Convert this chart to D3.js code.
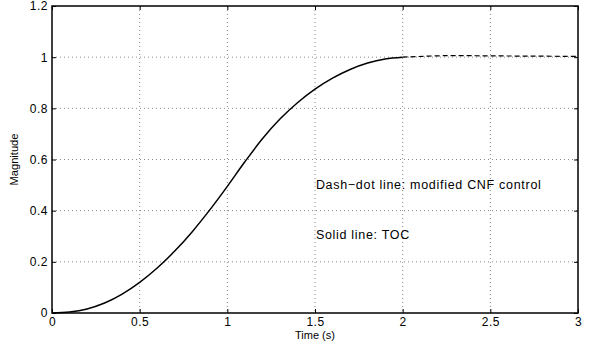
<!DOCTYPE html>
<html>
<head>
<meta charset="utf-8">
<script src="https://cdn.jsdelivr.net/npm/d3@7"></script>
<style>
  body { margin: 0; background: #fff; }
  text { font-family: "Liberation Sans", Arial, sans-serif; }
</style>
</head>
<body>
<div id="chart"></div>
<script>
// values
const tocTime = [0, 0.1, 0.2, 0.3, 0.4, 0.5, 0.6, 0.7, 0.8, 0.9, 1.0,
                 1.1, 1.2, 1.3, 1.4, 1.5, 1.6, 1.7, 1.8, 1.9, 2.0];
const tocMag = [0, 0.004, 0.016, 0.039, 0.074, 0.12, 0.176, 0.242, 0.318, 0.403, 0.495,
                0.591, 0.681, 0.758, 0.822, 0.875, 0.918, 0.952, 0.977, 0.993, 1.0];
const cnfTime = [2.0, 2.25, 2.5, 2.75, 3.0];
const cnfMag = [1.0, 1.006, 1.005, 1.004, 1.003];
const xTicks = [0, 0.5, 1, 1.5, 2, 2.5, 3];
const yTicks = [0, 0.2, 0.4, 0.6, 0.8, 1, 1.2];
const notes = ["Dash\u2212dot line: modified CNF control", "Solid line: TOC"];

const W = 589, H = 345;
const margin = { top: 6, right: 11, bottom: 32, left: 52 };
const width = W - margin.left - margin.right;
const height = H - margin.top - margin.bottom;

const svg = d3.select("#chart")
    .append("svg")
    .attr("width", W)
    .attr("height", H);

const g = svg.append("g")
    .attr("transform", `translate(${margin.left},${margin.top})`);

const x = d3.scaleLinear().domain([0, 3]).range([0, width]);
const y = d3.scaleLinear().domain([0, 1.2]).range([height, 0]);

// dotted grid
g.append("g")
    .selectAll("line")
    .data(xTicks.slice(1, -1))
    .join("line")
    .attr("x1", d => x(d)).attr("x2", d => x(d))
    .attr("y1", 0).attr("y2", height)
    .attr("stroke", "#888").attr("stroke-width", 1)
    .attr("stroke-dasharray", "1,3");

g.append("g")
    .selectAll("line")
    .data(yTicks.slice(1, -1))
    .join("line")
    .attr("x1", 0).attr("x2", width)
    .attr("y1", d => y(d)).attr("y2", d => y(d))
    .attr("stroke", "#888").attr("stroke-width", 1)
    .attr("stroke-dasharray", "1,3");

// axes with inward ticks
const fmt = d3.format("~g");
const styleAxis = sel => {
    sel.select(".domain").remove();
    sel.selectAll("text")
        .style("font-size", "12px")
        .style("letter-spacing", "0.5px")
        .attr("fill", "#000");
    sel.selectAll("line").attr("stroke", "#000");
};

g.append("g")
    .attr("transform", `translate(0,${height})`)
    .call(d3.axisBottom(x).tickValues(xTicks).tickFormat(fmt).tickSizeInner(-4).tickPadding(4))
    .call(styleAxis);

g.append("g")
    .call(d3.axisLeft(y).tickValues(yTicks).tickFormat(fmt).tickSizeInner(-4).tickPadding(4))
    .call(styleAxis);

g.append("g")
    .call(d3.axisTop(x).tickValues(xTicks).tickFormat("").tickSizeInner(-4))
    .call(styleAxis);

g.append("g")
    .attr("transform", `translate(${width},0)`)
    .call(d3.axisRight(y).tickValues(yTicks).tickFormat("").tickSizeInner(-4))
    .call(styleAxis);

// box
g.append("rect")
    .attr("width", width).attr("height", height)
    .attr("fill", "none").attr("stroke", "#000").attr("stroke-width", 1.5);

// lines
const line = d3.line()
    .x(d => x(d[0]))
    .y(d => y(d[1]))
    .curve(d3.curveCatmullRom);

g.append("path")
    .datum(cnfTime.map((t, i) => [t, cnfMag[i]]))
    .attr("d", line)
    .attr("fill", "none")
    .attr("stroke", "#000")
    .attr("stroke-width", 1.2)
    .attr("stroke-dasharray", "5,3");

g.append("path")
    .datum(tocTime.map((t, i) => [t, tocMag[i]]))
    .attr("d", line)
    .attr("fill", "none")
    .attr("stroke", "#000")
    .attr("stroke-width", 1.5);

// annotations
g.selectAll("text.note")
    .data(notes)
    .join("text")
    .attr("class", "note")
    .attr("x", x(1.505))
    .attr("y", (d, i) => y(0.485) + i * 50)
    .style("font-size", "12.5px")
    .style("letter-spacing", "0.7px")
    .text(d => d);

// axis titles
svg.append("text")
    .attr("x", margin.left + x(1.5))
    .attr("y", 339)
    .attr("text-anchor", "middle")
    .style("font-size", "11px")
    .text("Time (s)");

svg.append("text")
    .attr("transform", `translate(18,${margin.top + height / 2}) rotate(-90)`)
    .attr("text-anchor", "middle")
    .style("font-size", "10px")
    .attr("textLength", 52)
    .attr("lengthAdjust", "spacingAndGlyphs")
    .text("Magnitude");
</script>
</body>
</html>
